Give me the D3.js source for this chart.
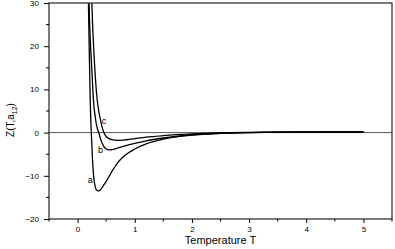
<!DOCTYPE html>
<html>
<head>
<meta charset="utf-8">
<script src="https://cdn.jsdelivr.net/npm/d3@7"></script>
<style>
  body { margin: 0; background: #fff; }
  svg { display: block; font-family: "Liberation Sans", Arial, sans-serif; }
</style>
</head>
<body>
<script>
// curve a
var tA = [0.17, 0.19, 0.2, 0.21, 0.22, 0.24, 0.26, 0.28, 0.31, 0.34, 0.37, 0.40, 0.45, 0.5, 0.6, 0.7, 0.8, 1.0, 1.2, 1.5, 2.0, 2.5, 3.0, 3.5, 4.0, 4.5, 5.0];
var zA = [45, 30, 22, 15, 8, 0, -6, -10, -12.6, -13.4, -13.5, -13.2, -12.3, -11.3, -9.0, -7.0, -5.6, -3.8, -2.6, -1.5, -0.6, -0.2, 0.0, 0.1, 0.15, 0.2, 0.2];
// curve b
var tB = [0.18, 0.2, 0.22, 0.25, 0.28, 0.31, 0.34, 0.37, 0.41, 0.45, 0.5, 0.55, 0.6, 0.7, 0.8, 1.0, 1.2, 1.5, 2.0, 2.5, 3.0, 3.5, 4.0, 4.5, 5.0];
var zB = [45, 30, 22, 14.5, 7, 3.5, 1.2, 0, -1.8, -3.0, -3.8, -4.0, -3.95, -3.6, -3.2, -2.5, -1.9, -1.25, -0.5, -0.15, 0.0, 0.1, 0.15, 0.2, 0.2];
// curve c
var tC = [0.23, 0.25, 0.28, 0.31, 0.34, 0.37, 0.40, 0.43, 0.46, 0.5, 0.55, 0.6, 0.7, 0.8, 1.0, 1.2, 1.5, 2.0, 2.5, 3.0, 3.5, 4.0, 4.5, 5.0];
var zC = [42, 30, 20, 13, 8, 5, 3, 1.2, 0, -0.9, -1.4, -1.65, -1.8, -1.75, -1.4, -1.05, -0.7, -0.3, -0.05, 0.05, 0.1, 0.15, 0.2, 0.2];

var curveNames = ['a', 'b', 'c'];
var labelPos = [[0.22, -11], [0.4, -4], [0.46, 2.8]]; // T, Z of each curve letter

var xTicks = [0, 1, 2, 3, 4, 5];
var yTicks = [-20, -10, 0, 10, 20, 30];

var width = 395, height = 249;
var margin = { top: 3, right: 3, bottom: 30, left: 49 };

var svg = d3.select('body').append('svg')
  .attr('width', width)
  .attr('height', height);

var x = d3.scaleLinear().domain([-0.5, 5.5]).range([margin.left, width - margin.right]);
var y = d3.scaleLinear().domain([-20, 30]).range([height - margin.bottom, margin.top]);

svg.append('clipPath').attr('id', 'clip')
  .append('rect')
  .attr('x', margin.left).attr('y', margin.top)
  .attr('width', width - margin.right - margin.left)
  .attr('height', height - margin.bottom - margin.top);

// zero line
svg.append('line')
  .attr('x1', x(-0.5)).attr('x2', x(5.5))
  .attr('y1', y(0)).attr('y2', y(0))
  .attr('stroke', '#555')
  .attr('stroke-width', 1);

var line = d3.line()
  .x(function(d) { return x(d[0]); })
  .y(function(d) { return y(d[1]); })
  .curve(d3.curveMonotoneX);

var series = [d3.zip(tA, zA), d3.zip(tB, zB), d3.zip(tC, zC)];

svg.append('g').attr('clip-path', 'url(#clip)')
  .selectAll('path')
  .data(series)
  .enter()
  .append('path')
  .attr('d', line)
  .attr('fill', 'none')
  .attr('stroke', '#000')
  .attr('stroke-width', 1.3);

svg.selectAll('.curve-label')
  .data(curveNames)
  .enter()
  .append('text')
  .attr('class', 'curve-label')
  .attr('x', function(d, i) { return x(labelPos[i][0]); })
  .attr('y', function(d, i) { return y(labelPos[i][1]); })
  .attr('text-anchor', 'middle')
  .attr('dy', '0.35em')
  .style('font-size', '9px')
  .text(function(d) { return d; });

// frame
svg.append('rect')
  .attr('x', margin.left).attr('y', margin.top)
  .attr('width', width - margin.right - margin.left)
  .attr('height', height - margin.bottom - margin.top)
  .attr('fill', 'none')
  .attr('stroke', '#333')
  .attr('stroke-width', 1.3);

var xAxis = d3.axisBottom(x).tickValues(xTicks).tickFormat(d3.format('d')).tickSize(4).tickPadding(3);
var gx = svg.append('g')
  .attr('transform', 'translate(0,' + (height - margin.bottom) + ')')
  .call(xAxis);
gx.select('.domain').remove();
gx.selectAll('text').style('font-size', '8px');
gx.selectAll('.minor')
  .data(d3.range(-0.5, 5.6, 1))
  .enter()
  .append('line')
  .attr('class', 'minor')
  .attr('x1', function(d) { return x(d); })
  .attr('x2', function(d) { return x(d); })
  .attr('y1', 0).attr('y2', 2.5)
  .attr('stroke', '#000');

var yAxis = d3.axisLeft(y).tickValues(yTicks).tickFormat(d3.format('d')).tickSize(5).tickPadding(5);
var gy = svg.append('g')
  .attr('transform', 'translate(' + margin.left + ',0)')
  .call(yAxis);
gy.select('.domain').remove();
gy.selectAll('text').style('font-size', '8px');
gy.selectAll('.minor')
  .data(d3.range(-15, 30, 10))
  .enter()
  .append('line')
  .attr('class', 'minor')
  .attr('y1', function(d) { return y(d); })
  .attr('y2', function(d) { return y(d); })
  .attr('x1', 0).attr('x2', -3)
  .attr('stroke', '#000');

svg.append('text')
  .attr('x', (x(-0.5) + x(5.5)) / 2)
  .attr('y', 244)
  .attr('text-anchor', 'middle')
  .style('font-size', '11px')
  .text('Temperature T');

var ylab = svg.append('text')
  .attr('transform', 'translate(14,120) rotate(-90)')
  .attr('text-anchor', 'middle')
  .style('font-size', '10px');
ylab.append('tspan').text('Z(T,a');
ylab.append('tspan').attr('dy', 3).style('font-size', '7px').text('12');
ylab.append('tspan').attr('dy', -3).text(')');
</script>
</body>
</html>
